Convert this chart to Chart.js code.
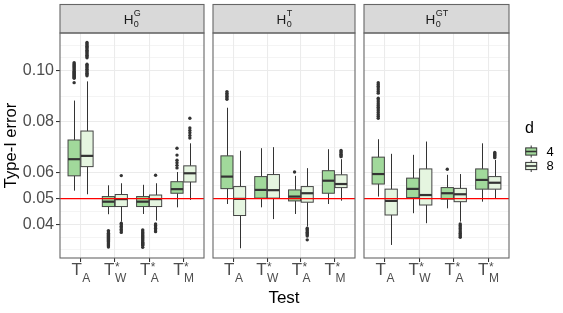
<!DOCTYPE html>
<html lang="en">
<head>
<meta charset="UTF-8" />
<title>Type-I error by test</title>
<script src="https://cdn.jsdelivr.net/npm/chart.js"></script>
<style>
  body { margin: 0; background: #fff; }
  #wrap { position: relative; width: 563px; height: 313px; overflow: hidden; }
  canvas { position: absolute; top: 0; }
</style>
</head>
<body>
<div id="wrap">
  <canvas id="p1" width="208" height="313" style="left:0"></canvas>
  <canvas id="p2" width="150" height="313" style="left:209px"></canvas>
  <canvas id="p3" width="203" height="313" style="left:360px"></canvas>
</div>
<script>
// test labels: T with subscript / superscript
const testBase = ['T', 'T', 'T', 'T'];
const testSub = ['A', 'W', 'A', 'M'];
const testSup = ['', '*', '*', '*'];
const panelSup = ['G', 'T', 'GT'];
const dLevels = ['4', '8'];

const yMajor = [0.04, 0.05, 0.06, 0.08, 0.10];
const yMinor = [0.03, 0.035, 0.045, 0.055, 0.07, 0.09, 0.105, 0.11];
const nominal = 0.05;

// [lower whisker, Q1, median, Q3, upper whisker] per test
const statsG4 = [[0.0531, 0.0589, 0.0654, 0.0729, 0.0883], [0.0439, 0.0469, 0.0488, 0.0508, 0.0552], [0.0440, 0.0469, 0.0488, 0.0508, 0.0554], [0.0466, 0.0521, 0.0537, 0.0566, 0.0604]];
const statsG8 = [[0.0517, 0.0625, 0.0667, 0.0764, 0.0958], [0.0410, 0.0469, 0.0498, 0.0516, 0.0560], [0.0414, 0.0469, 0.0498, 0.0514, 0.0560], [0.0495, 0.0565, 0.0599, 0.0628, 0.0716]];
const statsT4 = [[0.0479, 0.0539, 0.0586, 0.0667, 0.0855], [0.0466, 0.0502, 0.0534, 0.0586, 0.0697], [0.0440, 0.0491, 0.0508, 0.0534, 0.0589], [0.0479, 0.0521, 0.0570, 0.0609, 0.0693]];
const statsT8 = [[0.0306, 0.0434, 0.0499, 0.0547, 0.0687], [0.0420, 0.0502, 0.0533, 0.0594, 0.0701], [0.0391, 0.0486, 0.0521, 0.0547, 0.0619], [0.0492, 0.0543, 0.0557, 0.0593, 0.0654]];
const statsGT4 = [[0.0508, 0.0557, 0.0596, 0.0662, 0.0732], [0.0443, 0.0504, 0.0538, 0.0580, 0.0671], [0.0462, 0.0498, 0.0521, 0.0543, 0.0593], [0.0488, 0.0537, 0.0573, 0.0616, 0.0716]];
const statsGT8 = [[0.0319, 0.0436, 0.0491, 0.0537, 0.0675], [0.0404, 0.0475, 0.0514, 0.0616, 0.0723], [0.0410, 0.0488, 0.0517, 0.0540, 0.0596], [0.0502, 0.0537, 0.0562, 0.0586, 0.0651]];

// outliers per test
const outG4 = [
  [0.1031, 0.1026, 0.1022, 0.1018, 0.1014, 0.1010, 0.1006, 0.1002, 0.0998, 0.0994, 0.0990, 0.0986, 0.0982, 0.0978, 0.0974, 0.0970, 0.0953],
  [0.0375, 0.0370, 0.0365, 0.0360, 0.0356, 0.0352, 0.0348, 0.0344, 0.0340, 0.0336, 0.0332, 0.0328, 0.0324, 0.0320, 0.0316, 0.0311],
  [0.0378, 0.0373, 0.0368, 0.0363, 0.0358, 0.0354, 0.0350, 0.0346, 0.0342, 0.0338, 0.0334, 0.0330, 0.0326, 0.0322, 0.0318, 0.0310],
  [0.0697, 0.0670, 0.0650, 0.0640, 0.0630, 0.0620]
];
const outG8 = [
  [0.1110, 0.1105, 0.1100, 0.1095, 0.1090, 0.1085, 0.1080, 0.1075, 0.1070, 0.1065, 0.1060, 0.1055, 0.1050,
   0.1025, 0.1020, 0.1015, 0.1010, 0.1005, 0.1000, 0.0995, 0.0990, 0.0985, 0.0980],
  [0.0590, 0.0404, 0.0398, 0.0392, 0.0386, 0.0380, 0.0374, 0.0368],
  [0.0591, 0.0401, 0.0395, 0.0389, 0.0383, 0.0377, 0.0371],
  [0.0814, 0.0776, 0.0766, 0.0757, 0.0747, 0.0737]
];
const outT4 = [
  [0.0918, 0.0912, 0.0906, 0.0900, 0.0894, 0.0888],
  [],
  [0.0604],
  []
];
const outT8 = [
  [],
  [],
  [0.0384, 0.0379, 0.0374, 0.0369, 0.0364, 0.0359, 0.0354, 0.0339],
  [0.0688, 0.0683, 0.0678, 0.0673, 0.0668, 0.0664]
];
const outGT4 = [
  [0.0953, 0.0946, 0.0939, 0.0932, 0.0925, 0.0918, 0.0912, 0.0892, 0.0885, 0.0878, 0.0871, 0.0864, 0.0857, 0.0850, 0.0843, 0.0836, 0.0829, 0.0822, 0.0814],
  [],
  [0.0615],
  []
];
const outGT8 = [
  [],
  [],
  [0.0401, 0.0395, 0.0389, 0.0383, 0.0377, 0.0371, 0.0365, 0.0359, 0.0354, 0.0349],
  [0.0680, 0.0676, 0.0672, 0.0668, 0.0664, 0.0660]
];

const panelStats = [[statsG4, statsG8], [statsT4, statsT8], [statsGT4, statsGT8]];
const panelOut = [[outG4, outG8], [outT4, outT8], [outGT4, outGT8]];

const FONT = "'Liberation Sans', Arial, sans-serif";
const fills = ['#a1d99b', '#e5f5e0'];
const dodge = [-0.1875, 0.1875];
const boxHalf = 0.178;
const dark = '#333333';
const yMin = 0.0268, yMax = 0.1147;

const isMajor = v => yMajor.some(m => Math.abs(m - v) < 1e-9);

function line(ctx, x0, y0, x1, y1) {
  ctx.beginPath(); ctx.moveTo(x0, y0); ctx.lineTo(x1, y1); ctx.stroke();
}

// H_0^X in the strip, T_x^* under the axis
function drawSubSup(ctx, cx, base, sub, sup, f) {
  ctx.font = f.big + 'px ' + FONT;
  const wb = ctx.measureText(base).width;
  ctx.font = f.small + 'px ' + FONT;
  const ws = Math.max(ctx.measureText(sub).width, ctx.measureText(sup).width);
  const x0 = cx - (wb + ws) / 2;
  ctx.textAlign = 'left';
  ctx.textBaseline = 'alphabetic';
  ctx.font = f.big + 'px ' + FONT;
  ctx.fillText(base, x0, f.y);
  ctx.font = f.small + 'px ' + FONT;
  ctx.fillText(sub, x0 + wb + 0.5, f.y + f.subDy);
  if (sup) ctx.fillText(sup, x0 + wb + 0.5, f.y + f.supDy);
}

function boxPlugin(p) {
  return {
    id: 'boxes' + p,
    beforeDatasetsDraw(chart) {
      const { ctx, scales: { x, y } } = chart;
      ctx.save();
      panelStats[p].forEach((ser, k) => {
        ser.forEach((s, i) => {
          const c = i + 1 + dodge[k];
          const x0 = x.getPixelForValue(c - boxHalf);
          const x1 = x.getPixelForValue(c + boxHalf);
          const xm = Math.round(x.getPixelForValue(c)) + 0.5;
          const [lo, q1, med, q3, hi] = s.map(v => y.getPixelForValue(v));
          ctx.strokeStyle = dark;
          ctx.lineWidth = 1;
          line(ctx, xm, hi, xm, q3);
          line(ctx, xm, q1, xm, lo);
          ctx.fillStyle = fills[k];
          ctx.fillRect(x0, q3, x1 - x0, q1 - q3);
          ctx.strokeStyle = '#444';
          ctx.strokeRect(x0, q3, x1 - x0, q1 - q3);
          ctx.strokeStyle = dark;
          ctx.lineWidth = 2.2;
          line(ctx, x0, med, x1, med);
        });
      });
      ctx.restore();
    },
    afterDatasetsDraw(chart) {
      const { ctx, chartArea: a, scales: { y } } = chart;
      ctx.save();
      ctx.strokeStyle = '#ff0000';
      ctx.lineWidth = 1.1;
      const yy = y.getPixelForValue(nominal);
      line(ctx, a.left, yy, a.right, yy);
      ctx.restore();
    },
    afterDraw(chart) {
      const { ctx, chartArea: a, scales: { x } } = chart;
      ctx.save();
      // strip
      ctx.fillStyle = '#d9d9d9';
      ctx.fillRect(a.left, 4.5, a.right - a.left, a.top - 4.5);
      ctx.strokeStyle = '#666';
      ctx.lineWidth = 1.1;
      ctx.strokeRect(a.left, 4.5, a.right - a.left, a.top - 4.5);
      ctx.strokeRect(a.left, a.top, a.right - a.left, a.bottom - a.top);
      ctx.fillStyle = '#1a1a1a';
      drawSubSup(ctx, (a.left + a.right) / 2, 'H', '0', panelSup[p], { big: 13.5, small: 9, y: 24, subDy: 3, supDy: -8.5 });
      // test labels
      ctx.fillStyle = '#4d4d4d';
      testBase.forEach((b, i) => {
        drawSubSup(ctx, x.getPixelForValue(i + 1), b, testSub[i], testSup[i], { big: 17, small: 12, y: 275, subDy: 6.5, supDy: -4.5 });
      });
      if (p === 2) {
        // legend
        const lx = 525 - 360;
        ctx.fillStyle = '#000';
        ctx.font = '16px ' + FONT;
        ctx.textAlign = 'left';
        ctx.textBaseline = 'alphabetic';
        ctx.fillText('d', lx, 133);
        dLevels.forEach((lab, k) => {
          const cy = 151.5 + k * 14.5;
          const kx = lx + 0.7;
          ctx.strokeStyle = dark;
          ctx.lineWidth = 1;
          line(ctx, kx + 5.5, cy - 6, kx + 5.5, cy + 6);
          ctx.fillStyle = fills[k];
          ctx.fillRect(kx, cy - 3.6, 11, 7.2);
          ctx.strokeRect(kx, cy - 3.6, 11, 7.2);
          ctx.lineWidth = 1.6;
          line(ctx, kx, cy, kx + 11, cy);
          ctx.fillStyle = '#000';
          ctx.font = '13px ' + FONT;
          ctx.textBaseline = 'middle';
          ctx.fillText(lab, lx + 21.5, cy + 0.5);
          ctx.textBaseline = 'alphabetic';
        });
      }
      ctx.restore();
    }
  };
}

function makePanel(id, p, pad) {
  const first = p === 0;
  const datasets = panelOut[p].map((ser, k) => ({
    label: 'd = ' + dLevels[k],
    data: ser.flatMap((vals, i) => vals.map(v => ({ x: i + 1 + dodge[k], y: v }))),
    pointRadius: 1.7,
    pointBackgroundColor: dark,
    pointBorderWidth: 0
  }));
  return new Chart(document.getElementById(id), {
    type: 'scatter',
    data: { datasets },
    options: {
      responsive: false,
      animation: false,
      layout: { padding: pad },
      plugins: { legend: { display: false }, tooltip: { enabled: false } },
      scales: {
        x: {
          type: 'linear', min: 0.4, max: 4.6,
          afterBuildTicks: s => { s.ticks = [1, 2, 3, 4].map(v => ({ value: v })); },
          ticks: { display: false },
          grid: { color: '#ebebeb', lineWidth: 1.07, drawTicks: true, tickLength: 4, tickColor: dark },
          border: { display: false },
          title: {
            display: p === 1, text: 'Test', color: '#000',
            font: { family: FONT, size: 17 }, padding: { top: 0, bottom: 4 }
          },
          afterFit: s => { s.height = 55; }
        },
        y: {
          type: 'linear', min: yMin, max: yMax,
          afterBuildTicks: s => { s.ticks = yMajor.concat(yMinor).sort((a, b) => a - b).map(v => ({ value: v })); },
          ticks: {
            display: first, autoSkip: false, padding: 2, color: '#4d4d4d',
            font: { family: FONT, size: 16 },
            callback: v => isMajor(v) ? v.toFixed(2) : ''
          },
          grid: {
            color: '#ebebeb',
            lineWidth: c => isMajor(c.tick.value) ? 1.07 : 0.55,
            drawTicks: first, tickLength: 4,
            tickColor: c => isMajor(c.tick.value) ? dark : 'rgba(0,0,0,0)'
          },
          border: { display: false },
          title: {
            display: first, text: 'Type-I error', color: '#000',
            font: { family: FONT, size: 16.5 }, padding: { top: 2, bottom: 0 }
          },
          afterFit: s => { s.width = first ? 60 : 0; }
        }
      }
    },
    plugins: [boxPlugin(p)]
  });
}

makePanel('p1', 0, { left: 0, right: 1.5, top: 33, bottom: 0 });
makePanel('p2', 1, { left: 2, right: 1.5, top: 33, bottom: 0 });
makePanel('p3', 2, { left: 2.5, right: 54, top: 33, bottom: 0 });
</script>
</body>
</html>
